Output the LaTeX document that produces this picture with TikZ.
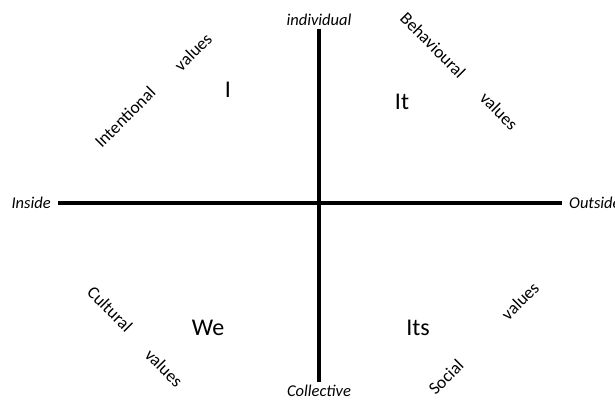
\documentclass[tikz,border=0pt]{standalone}
\usepackage{fontspec}
\setmainfont{Carlito}
\tikzset{
  axislbl/.style={font=\fontsize{16.5}{18}\selectfont\itshape,inner xsep=7pt,inner ysep=3pt},
  quadlbl/.style={font=\fontsize{24}{26}\selectfont},
  valuelbl/.style={font=\fontsize{17.5}{19}\selectfont,inner sep=0pt},
}
\begin{document}
\begin{tikzpicture}[x=1pt,y=-1pt]
\useasboundingbox (0,0) rectangle (615,405);
% axes
\node[axislbl,anchor=east] (inside) at (58,203){Inside};
\node[axislbl,anchor=west] (outside) at (562,203){Outside};
\node[axislbl,anchor=south] (indiv) at (319,29){individual};
\node[axislbl,anchor=north] (coll) at (319,382){Collective};
\draw[line width=3.2pt] (inside.east)--(outside.west);
\draw[line width=3.2pt] (indiv.south)--(coll.north);
% quadrants
\node[quadlbl] (qi) at (228,90){I};
\node[quadlbl] (qit) at (402,102){It};
\node[quadlbl] (qwe) at (208,328){We};
\node[quadlbl] (qits) at (418,328){Its};
% values
\node[valuelbl,rotate=45] (intent) at (125,117){Intentional};
\node[valuelbl,rotate=45] (ival) at (193,52){values};
\node[valuelbl,rotate=-45] (behav) at (433,45){Behavioural};
\node[valuelbl,rotate=-45] (itval) at (499,111){values};
\node[valuelbl,rotate=-45] (cult) at (110,309){Cultural};
\node[valuelbl,rotate=-45] (weval) at (164,368){values};
\node[valuelbl,rotate=45] (itsval) at (520,301){values};
\node[valuelbl,rotate=45] (social) at (446,377){Social};
\end{tikzpicture}
\end{document}
